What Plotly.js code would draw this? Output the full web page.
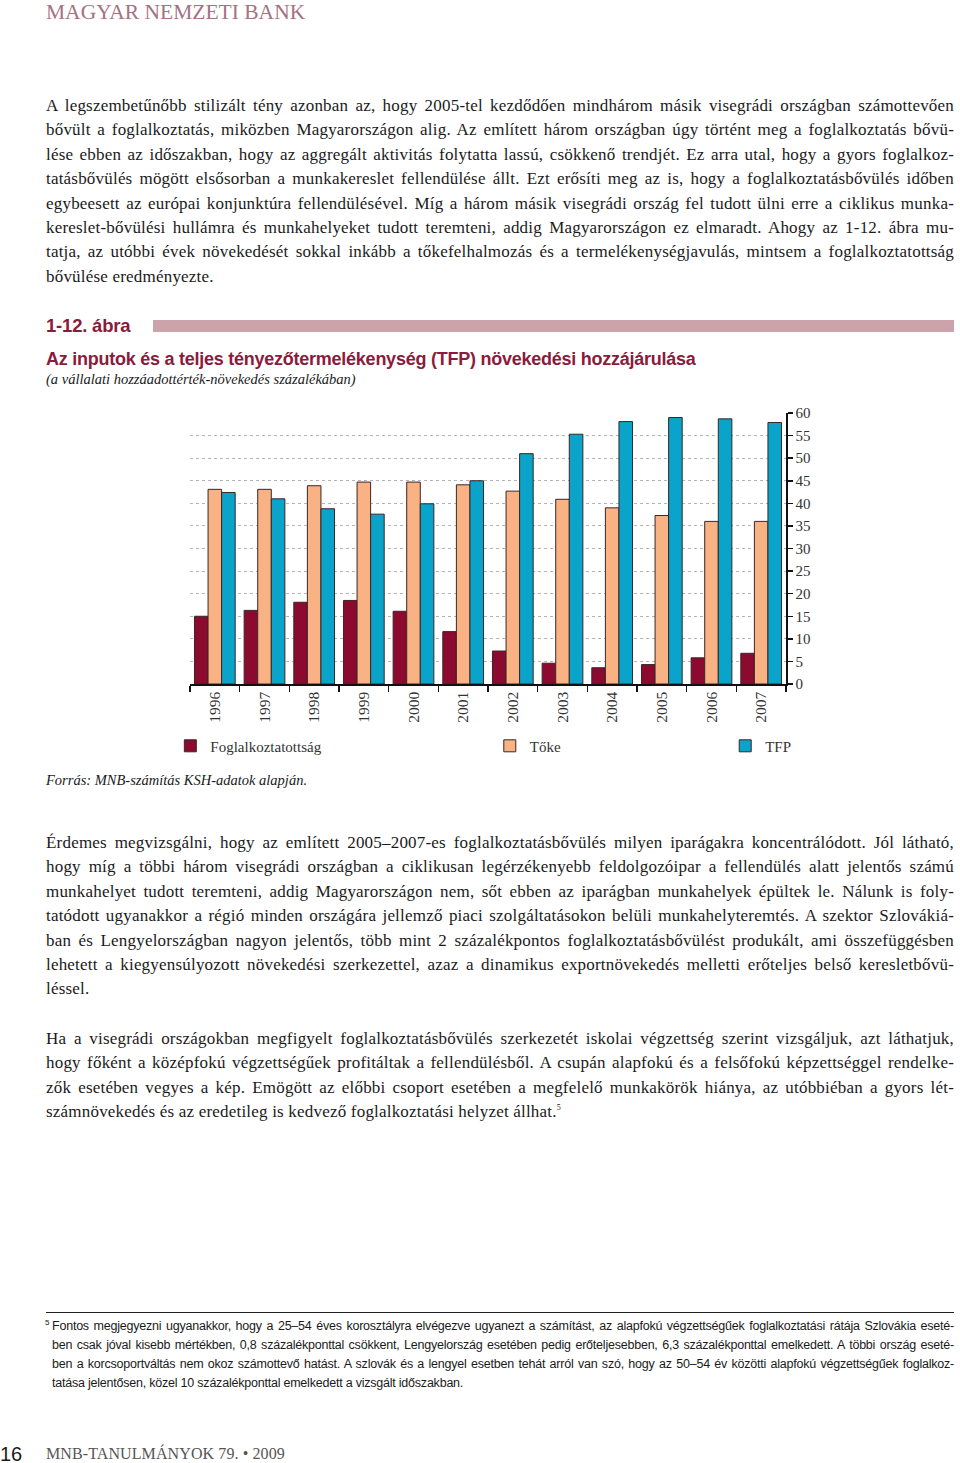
<!DOCTYPE html>
<html>
<head>
<meta charset="utf-8">
<script src="https://cdn.plot.ly/plotly-3.0.1.min.js"></script>
<style>
  html, body { margin:0; padding:0; background:#fff; }
  body { width:960px; height:1463px; position:relative; overflow:hidden; }
  .abs { position:absolute; }
  .serif { font-family:"Liberation Serif","DejaVu Serif",serif; color:#1a1a1a; }
  .para { left:46px; width:908px; font-size:17px; letter-spacing:0.2px; }
  .para div { height:24.4px; line-height:24.4px; white-space:nowrap; text-align:justify; text-align-last:justify; }
  .para div.last { text-align-last:left; }
  .foot { left:52px; width:902px; font-family:"Liberation Sans","Noto Sans",sans-serif; font-size:12.5px; letter-spacing:-0.22px; color:#1a1a1a; }
  .foot div { height:19px; line-height:19px; white-space:nowrap; text-align:justify; text-align-last:justify; }
  .foot div.last { text-align-last:left; }
  .sans { font-family:"Liberation Sans","Noto Sans",sans-serif; }
  sup { font-size:8px; line-height:0; }
</style>
</head>
<body>
<div class="abs serif" style="left:46px; top:0px; font-size:21.5px; color:#a37381; letter-spacing:0px;">MAGYAR NEMZETI BANK</div>

<div class="abs serif para" style="top:94px;">
  <div>A legszembetűnőbb stilizált tény azonban az, hogy 2005-tel kezdődően mindhárom másik visegrádi országban számottevően</div>
  <div>bővült a foglalkoztatás, miközben Magyarországon alig. Az említett három országban úgy történt meg a foglalkoztatás bővü-</div>
  <div>lése ebben az időszakban, hogy az aggregált aktivitás folytatta lassú, csökkenő trendjét. Ez arra utal, hogy a gyors foglalkoz-</div>
  <div>tatásbővülés mögött elsősorban a munkakereslet fellendülése állt. Ezt erősíti meg az is, hogy a foglalkoztatásbővülés időben</div>
  <div>egybeesett az európai konjunktúra fellendülésével. Míg a három másik visegrádi ország fel tudott ülni erre a ciklikus munka-</div>
  <div>kereslet-bővülési hullámra és munkahelyeket tudott teremteni, addig Magyarországon ez elmaradt. Ahogy az 1-12. ábra mu-</div>
  <div>tatja, az utóbbi évek növekedését sokkal inkább a tőkefelhalmozás és a termelékenységjavulás, mintsem a foglalkoztatottság</div>
  <div class="last">bővülése eredményezte.</div>
</div>

<div class="abs sans" style="left:46px; top:315px; font-size:18.5px; font-weight:bold; color:#8a1b3c; letter-spacing:-0.2px;">1-12. ábra</div>
<div class="abs" style="left:153px; top:320px; width:801px; height:12px; background:#cda3ab;"></div>

<div class="abs sans" style="left:46px; top:349px; font-size:18px; font-weight:bold; color:#8a1b3c; letter-spacing:-0.25px;">Az inputok és a teljes tényezőtermelékenység (TFP) növekedési hozzájárulása</div>
<div class="abs serif" style="left:46px; top:371px; font-size:14.5px; font-style:italic;">(a vállalati hozzáadottérték-növekedés százalékában)</div>

<div id="chart" class="abs" style="left:0; top:400px; width:960px; height:420px;"></div>

<div class="abs serif" style="left:46px; top:772px; font-size:14.5px; font-style:italic;">Forrás: MNB-számítás KSH-adatok alapján.</div>

<div class="abs serif para" style="top:831px;">
  <div>Érdemes megvizsgálni, hogy az említett 2005–2007-es foglalkoztatásbővülés milyen iparágakra koncentrálódott. Jól látható,</div>
  <div>hogy míg a többi három visegrádi országban a ciklikusan legérzékenyebb feldolgozóipar a fellendülés alatt jelentős számú</div>
  <div>munkahelyet tudott teremteni, addig Magyarországon nem, sőt ebben az iparágban munkahelyek épültek le. Nálunk is foly-</div>
  <div>tatódott ugyanakkor a régió minden országára jellemző piaci szolgáltatásokon belüli munkahelyteremtés. A szektor Szlovákiá-</div>
  <div>ban és Lengyelországban nagyon jelentős, több mint 2 százalékpontos foglalkoztatásbővülést produkált, ami összefüggésben</div>
  <div>lehetett a kiegyensúlyozott növekedési szerkezettel, azaz a dinamikus exportnövekedés melletti erőteljes belső keresletbővü-</div>
  <div class="last">léssel.</div>
</div>

<div class="abs serif para" style="top:1027px;">
  <div>Ha a visegrádi országokban megfigyelt foglalkoztatásbővülés szerkezetét iskolai végzettség szerint vizsgáljuk, azt láthatjuk,</div>
  <div>hogy főként a középfokú végzettségűek profitáltak a fellendülésből. A csupán alapfokú és a felsőfokú képzettséggel rendelke-</div>
  <div>zők esetében vegyes a kép. Emögött az előbbi csoport esetében a megfelelő munkakörök hiánya, az utóbbiéban a gyors lét-</div>
  <div class="last">számnövekedés és az eredetileg is kedvező foglalkoztatási helyzet állhat.<sup>5</sup></div>
</div>

<div class="abs" style="left:46px; top:1312px; width:908px; height:1px; background:#222;"></div>
<div class="abs sans" style="left:45px; top:1318px; font-size:8px; color:#1a1a1a;">5</div>
<div class="abs foot" style="top:1317px;">
  <div>Fontos megjegyezni ugyanakkor, hogy a 25–54 éves korosztályra elvégezve ugyanezt a számítást, az alapfokú végzettségűek foglalkoztatási rátája Szlovákia eseté-</div>
  <div>ben csak jóval kisebb mértékben, 0,8 százalékponttal csökkent, Lengyelország esetében pedig erőteljesebben, 6,3 százalékponttal emelkedett. A többi ország eseté-</div>
  <div>ben a korcsoportváltás nem okoz számottevő hatást. A szlovák és a lengyel esetben tehát arról van szó, hogy az 50–54 év közötti alapfokú végzettségűek foglalkoz-</div>
  <div class="last">tatása jelentősen, közel 10 százalékponttal emelkedett a vizsgált időszakban.</div>
</div>

<div class="abs sans" style="left:0px; top:1443px; font-size:20px; color:#1a1a1a;">16</div>
<div class="abs serif" style="left:46px; top:1445px; font-size:16px; color:#555; letter-spacing:0.1px;">MNB-TANULMÁNYOK 79. • 2009</div>

<script>
const years = ["1996","1997","1998","1999","2000","2001","2002","2003","2004","2005","2006","2007"];
const foglalkoztatottsag = [15.0, 16.3, 18.1, 18.5, 16.1, 11.6, 7.3, 4.6, 3.6, 4.3, 5.8, 6.8];
const toke = [43.1, 43.1, 43.9, 44.7, 44.7, 44.1, 42.7, 40.9, 39.0, 37.3, 36.0, 36.0];
const tfp = [42.4, 41.0, 38.8, 37.6, 39.9, 45.0, 51.0, 55.3, 58.1, 59.0, 58.7, 57.9];
const seriesNames = ["Foglalkoztatottság", "Tőke", "TFP"];
const yTicks = [0,5,10,15,20,25,30,35,40,45,50,55,60];

const serifFont = '"Liberation Serif","DejaVu Serif",serif';
const outline = {color:'#3b2626', width:1};

const traces = [
  {type:'bar', x:years, y:foglalkoztatottsag, name:seriesNames[0], legend:'legend',
   marker:{color:'#8c0a30', line:outline}},
  {type:'bar', x:years, y:toke, name:seriesNames[1], legend:'legend2',
   marker:{color:'#f9b283', line:outline}},
  {type:'bar', x:years, y:tfp, name:seriesNames[2], legend:'legend3',
   marker:{color:'#0aa3c9', line:outline}}
];

const legendBase = {orientation:'h', yanchor:'middle', xanchor:'left', y:-0.229,
  bgcolor:'rgba(0,0,0,0)', font:{family:serifFont, size:15, color:'#333'}, itemclick:false};

const layout = {
  width:960, height:420,
  margin:{l:190, r:174, t:13, b:136, pad:0},
  paper_bgcolor:'rgba(0,0,0,0)', plot_bgcolor:'#fff',
  barmode:'group', bargap:0.18, bargroupgap:0,
  showlegend:true,
  legend: Object.assign({}, legendBase, {x:-0.033}),
  legend2: Object.assign({}, legendBase, {x:0.503}),
  legend3: Object.assign({}, legendBase, {x:0.898}),
  xaxis:{type:'category', tickangle:-90, ticks:'outside', tickson:'boundaries', ticklen:6,
    tickcolor:'#111', tickwidth:1.5, showline:true, linecolor:'#111', linewidth:1.5,
    showgrid:false, tickfont:{family:serifFont, size:15.5, color:'#333'}, fixedrange:true},
  yaxis:{side:'right', range:[0,60], tickvals:yTicks, ticks:'outside', ticklen:5,
    tickcolor:'#111', tickwidth:1.5, showline:true, linecolor:'#111', linewidth:1.5,
    showgrid:true, gridcolor:'#b5b5b5', griddash:'dot', gridwidth:1, zeroline:false,
    tickfont:{family:serifFont, size:15, color:'#333'}, fixedrange:true}
};

Plotly.newPlot('chart', traces, layout, {displayModeBar:false, staticPlot:true});
</script>
</body>
</html>
